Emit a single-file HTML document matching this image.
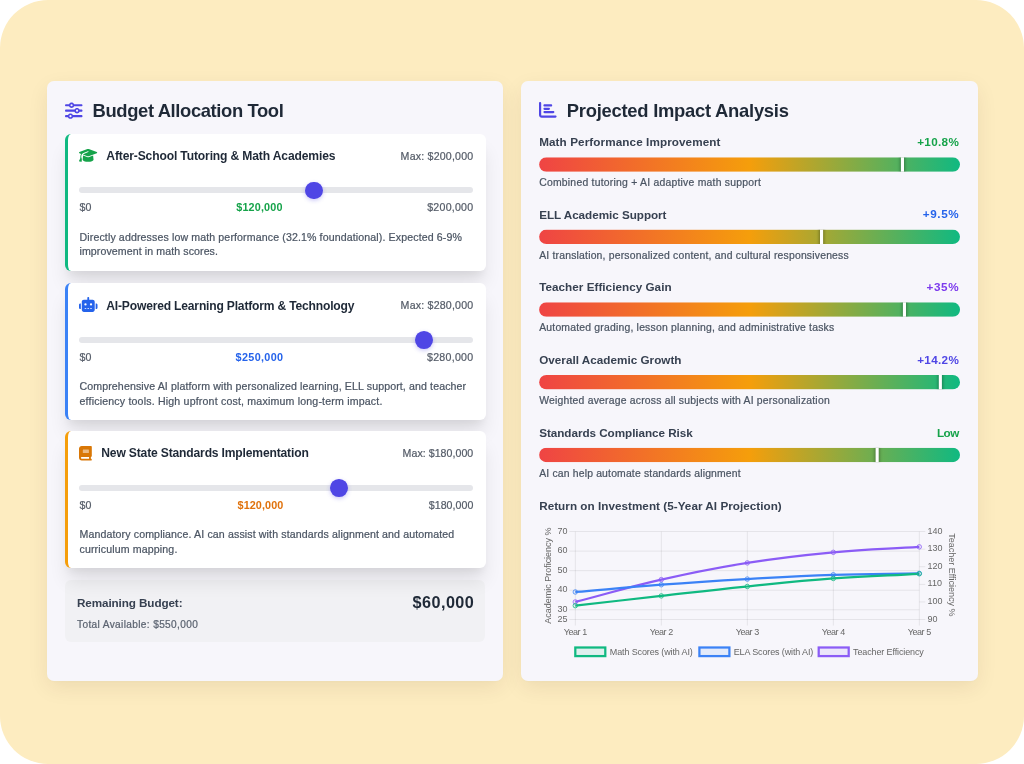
<!DOCTYPE html>
<html lang="en">
<head>
<meta charset="utf-8">
<title>Budget Allocation Tool</title>
<style>
*{box-sizing:border-box;margin:0;padding:0}
html,body{width:1024px;height:764px;overflow:hidden;background:#fff}
body{-webkit-font-smoothing:antialiased;font-family:"Liberation Sans",Arial,sans-serif;color:#1f2937;position:relative}
.page{position:absolute;left:0;top:0;width:1024px;height:764px;background:#fdecc0;border-radius:48px;overflow:hidden}
.panel{will-change:transform;position:absolute;top:80.7px;height:599.8px;background:#f7f6fb;border-radius:7px;box-shadow:0 7px 21px -1px rgba(60,40,0,.085),0 1px 3px rgba(60,40,0,.025)}
#lp{left:47px;width:456.4px}
#rp{left:521.2px;width:456.5px}
.abs{position:absolute;white-space:nowrap;line-height:1;z-index:5;-webkit-text-stroke:.22px currentColor}
.b{-webkit-text-stroke:0;font-weight:700}
h2,h3{margin:0}
.ic{position:absolute;z-index:5;overflow:visible}
.card{border-left:3.2px solid #000;position:absolute;left:18px;width:421px;background:#fff;border-radius:6px;box-shadow:0 15px 18.75px -3.75px rgba(0,0,10,.105),0 7.5px 7.5px -3.75px rgba(0,0,10,.045);z-index:2}
.track{position:absolute;left:11.1px;width:394px;height:6px;border-radius:3px;background:#e5e6ea;top:53.7px}
.thumb{position:absolute;width:17.8px;height:17.8px;border-radius:50%;background:#4f46e5;box-shadow:0 1.5px 4.5px rgba(79,70,229,.3)}
.remain{position:absolute;left:18px;top:499.2px;width:420px;height:62.2px;border-radius:6px;background:#f1f1f4;z-index:1}
.chart{position:absolute;left:0;top:0;z-index:3}
.chart text{font-family:"Liberation Sans",Arial,sans-serif;font-size:9px;fill:#666}
</style>
</head>
<body>
<div class="page">
<div class="panel" id="lp">
<svg class="ic" style="left:17.90px;top:20.55px;width:17.5px;height:17.4px" viewBox="0 0 512 512" preserveAspectRatio="none"><path fill="#4f46e5" d="M0 416c0 17.700 14.300 32 32 32l54.700 0c12.300 28.300 40.500 48 73.300 48s61-19.700 73.300-48L480 448c17.700 0 32-14.300 32-32s-14.300-32-32-32l-246.700 0c-12.300-28.300-40.500-48-73.300-48s-61 19.700-73.300 48L32 384c-17.700 0-32 14.300-32 32zm128 0a32 32 0 1 1 64 0 32 32 0 1 1 -64 0zM320 256a32 32 0 1 1 64 0 32 32 0 1 1 -64 0zm32-80c-32.800 0-61 19.700-73.300 48L32 224c-17.700 0-32 14.300-32 32s14.300 32 32 32l246.700 0c12.300 28.300 40.500 48 73.300 48s61-19.700 73.300-48l54.700 0c17.700 0 32-14.300 32-32s-14.300-32-32-32l-54.700 0c-12.300-28.300-40.500-48-73.300-48zM192 128a32 32 0 1 1 0-64 32 32 0 1 1 0 64zm73.300-64C253 35.700 224.800 16 192 16s-61 19.700-73.300 48L32 64C14.300 64 0 78.300 0 96s14.300 32 32 32l86.700 0c12.300 28.300 40.500 48 73.300 48s61-19.700 73.300-48L480 128c17.700 0 32-14.300 32-32s-14.300-32-32-32L265.300 64z"/></svg>
<h2 class="abs b" id="t0" style="left:45.60px;top:20.52px;font-size:18.4px;color:#1f2937;letter-spacing:-0.382px;">Budget Allocation Tool</h2>
<div class="card" style="top:52.60px;height:137.4px;border-left-color:#10b981">
<svg class="ic" style="left:11.30px;top:14.90px;width:18.2px;height:14.8px" viewBox="0 0 640 512" preserveAspectRatio="none"><path fill="#16a34a" d="M320 32c-8.100 0-16.100 1.400-23.700 4.100L15.800 137.400C6.300 140.900 0 149.900 0 160s6.300 19.100 15.800 22.600l57.900 20.900C57.300 229.300 48 259.800 48 291.900l0 28.100c0 28.400-10.800 57.700-22.300 80.800c-6.500 13-13.900 25.800-22.500 37.600C0 442.700-.9 448.300 .9 453.400s6 8.900 11.200 10.200l64 16c4.200 1.100 8.700 .3 12.400-2s6.300-6.100 7.100-10.400c8.600-42.800 4.300-81.200-2.100-108.700C90.300 344.300 86 329.800 80 316.500l0-24.600c0-30.200 10.200-58.700 27.900-81.500c12.900-15.500 29.600-28 49.200-35.700l157-61.700c8.200-3.200 17.500 .8 20.700 9s-.8 17.500-9 20.700l-157 61.700c-12.400 4.900-23.300 12.400-32.200 21.600l159.600 57.600c7.600 2.700 15.600 4.100 23.700 4.100s16.100-1.400 23.700-4.100L624.200 182.600c9.500-3.400 15.800-12.500 15.800-22.600s-6.300-19.100-15.800-22.600L343.700 36.100C336.100 33.400 328.100 32 320 32zM128 408c0 35.300 86 72 192 72s192-36.700 192-72L496.700 262.600 354.500 314c-11.100 4-22.800 6-34.500 6s-23.500-2-34.500-6L143.300 262.600 128 408z"/></svg>
<h3 class="abs b" id="t1" style="left:38.30px;top:16.46px;font-size:12.1px;color:#1f2937;letter-spacing:-0.144px;">After-School Tutoring &amp; Math Academies</h3>
<span class="abs" id="t2" style="left:332.60px;top:17.23px;font-size:10.6px;color:#555c68;letter-spacing:0.208px;">Max: $200,000</span>
<div class="track"></div><div class="thumb" style="left:237.22px;top:48.0px"></div>
<span class="abs" id="t3" style="left:11.50px;top:67.93px;font-size:10.6px;color:#555c68;letter-spacing:0.202px;">$0</span>
<span class="abs b" id="t4" style="left:168.30px;top:68.76px;font-size:10.8px;color:#16a34a;letter-spacing:0.154px;">$120,000</span>
<span class="abs" id="t5" style="left:359.20px;top:67.93px;font-size:10.6px;color:#555c68;letter-spacing:0.255px;">$200,000</span>
<span class="abs" id="t6" style="left:11.50px;top:98.63px;font-size:10.6px;color:#4b5563;letter-spacing:0.123px;">Directly addresses low math performance (32.1% foundational). Expected 6-9%</span>
<span class="abs" id="t7" style="left:11.50px;top:112.03px;font-size:10.6px;color:#4b5563;letter-spacing:0.094px;">improvement in math scores.</span>
</div>
<div class="card" style="top:202.20px;height:136.7px;border-left-color:#3b82f6">
<svg class="ic" style="left:11.20px;top:13.90px;width:18.5px;height:14.9px" viewBox="0 0 640 512" preserveAspectRatio="none"><path fill="#2563eb" d="M320 0c17.700 0 32 14.300 32 32l0 64 120 0c39.800 0 72 32.200 72 72l0 272c0 39.800-32.200 72-72 72l-304 0c-39.800 0-72-32.200-72-72l0-272c0-39.800 32.200-72 72-72l120 0 0-64c0-17.700 14.300-32 32-32zM208 384c-8.800 0-16 7.200-16 16s7.200 16 16 16l32 0c8.800 0 16-7.200 16-16s-7.200-16-16-16l-32 0zm96 0c-8.800 0-16 7.200-16 16s7.200 16 16 16l32 0c8.800 0 16-7.200 16-16s-7.200-16-16-16l-32 0zm96 0c-8.800 0-16 7.200-16 16s7.200 16 16 16l32 0c8.800 0 16-7.200 16-16s-7.200-16-16-16l-32 0zM264 256a40 40 0 1 0 -80 0 40 40 0 1 0 80 0zm152 40a40 40 0 1 0 0-80 40 40 0 1 0 0 80zM48 224l16 0 0 192-16 0c-26.500 0-48-21.500-48-48l0-96c0-26.500 21.500-48 48-48zm544 0c26.500 0 48 21.500 48 48l0 96c0 26.500-21.500 48-48 48l-16 0 0-192 16 0z"/></svg>
<h3 class="abs b" id="t8" style="left:38.30px;top:16.46px;font-size:12.1px;color:#1f2937;letter-spacing:-0.190px;">AI-Powered Learning Platform &amp; Technology</h3>
<span class="abs" id="t9" style="left:332.60px;top:17.23px;font-size:10.6px;color:#555c68;letter-spacing:0.208px;">Max: $280,000</span>
<div class="track"></div><div class="thumb" style="left:347.39px;top:48.0px"></div>
<span class="abs" id="t10" style="left:11.50px;top:68.93px;font-size:10.6px;color:#555c68;letter-spacing:0.202px;">$0</span>
<span class="abs b" id="t11" style="left:167.60px;top:68.76px;font-size:10.8px;color:#2563eb;letter-spacing:0.340px;">$250,000</span>
<span class="abs" id="t12" style="left:359.00px;top:68.93px;font-size:10.6px;color:#555c68;letter-spacing:0.282px;">$280,000</span>
<span class="abs" id="t13" style="left:11.50px;top:97.63px;font-size:10.6px;color:#4b5563;letter-spacing:0.116px;">Comprehensive AI platform with personalized learning, ELL support, and teacher</span>
<span class="abs" id="t14" style="left:11.50px;top:113.03px;font-size:10.6px;color:#4b5563;letter-spacing:0.181px;">efficiency tools. High upfront cost, maximum long-term impact.</span>
</div>
<div class="card" style="top:350.00px;height:137.3px;border-left-color:#f59e0b">
<svg class="ic" style="left:11.30px;top:14.50px;width:12.8px;height:14.6px" viewBox="0 0 448 512" preserveAspectRatio="none"><path fill="#d97706" d="M96 0C43 0 0 43 0 96L0 416c0 53 43 96 96 96l288 0 32 0c17.700 0 32-14.300 32-32s-14.300-32-32-32l0-64c17.700 0 32-14.300 32-32l0-320c0-17.700-14.300-32-32-32L384 0 96 0zm0 384l256 0 0 64L96 448c-17.700 0-32-14.300-32-32s14.300-32 32-32zm32-240c0-8.800 7.200-16 16-16l192 0c8.800 0 16 7.200 16 16s-7.200 16-16 16l-192 0c-8.800 0-16-7.200-16-16zm16 48l192 0c8.800 0 16 7.200 16 16s-7.200 16-16 16l-192 0c-8.800 0-16-7.200-16-16s7.200-16 16-16z"/></svg>
<h3 class="abs b" id="t15" style="left:33.30px;top:16.46px;font-size:12.1px;color:#1f2937;letter-spacing:-0.168px;">New State Standards Implementation</h3>
<span class="abs" id="t16" style="left:334.60px;top:17.23px;font-size:10.6px;color:#555c68;letter-spacing:0.048px;">Max: $180,000</span>
<div class="track"></div><div class="thumb" style="left:262.30px;top:48.0px"></div>
<span class="abs" id="t17" style="left:11.50px;top:68.93px;font-size:10.6px;color:#555c68;letter-spacing:0.202px;">$0</span>
<span class="abs b" id="t18" style="left:169.60px;top:68.76px;font-size:10.8px;color:#e0720c;letter-spacing:0.087px;">$120,000</span>
<span class="abs" id="t19" style="left:360.80px;top:68.93px;font-size:10.6px;color:#555c68;letter-spacing:0.042px;">$180,000</span>
<span class="abs" id="t20" style="left:11.50px;top:97.63px;font-size:10.6px;color:#4b5563;letter-spacing:0.124px;">Mandatory compliance. AI can assist with standards alignment and automated</span>
<span class="abs" id="t21" style="left:11.50px;top:113.03px;font-size:10.6px;color:#4b5563;letter-spacing:0.136px;">curriculum mapping.</span>
</div>
<div class="remain">
<span class="abs b" id="t22" style="left:12.00px;top:17.20px;font-size:11.7px;color:#374151;letter-spacing:-0.099px;">Remaining Budget:</span>
<span class="abs" id="t23" style="left:12.00px;top:40.05px;font-size:10.1px;color:#5b6370;letter-spacing:0.365px;">Total Available: $550,000</span>
<span class="abs b" id="t24" style="left:347.60px;top:13.69px;font-size:16.2px;color:#1f2937;letter-spacing:0.444px;">$60,000</span>
</div>
</div>
<div class="panel" id="rp">
<svg class="ic" style="left:18.00px;top:20.30px;width:17.6px;height:17.8px" viewBox="0 0 512 512" preserveAspectRatio="none"><path fill="#4f46e5" d="M32 32c17.700 0 32 14.300 32 32l0 336c0 8.800 7.200 16 16 16l400 0c17.700 0 32 14.300 32 32s-14.300 32-32 32L80 480c-44.200 0-80-35.800-80-80L0 64C0 46.300 14.300 32 32 32zm96 96c0-17.700 14.300-32 32-32l192 0c17.700 0 32 14.300 32 32s-14.300 32-32 32l-192 0c-17.700 0-32-14.300-32-32zm32 64l128 0c17.700 0 32 14.300 32 32s-14.300 32-32 32l-128 0c-17.700 0-32-14.300-32-32s14.300-32 32-32zm0 96l256 0c17.700 0 32 14.300 32 32s-14.300 32-32 32l-256 0c-17.700 0-32-14.300-32-32s14.300-32 32-32z"/></svg>
<h2 class="abs b" id="t25" style="left:45.80px;top:20.52px;font-size:18.4px;color:#1f2937;letter-spacing:-0.256px;">Projected Impact Analysis</h2>
<h3 class="abs b" id="t26" style="left:18.20px;top:55.45px;font-size:11.7px;color:#374151;letter-spacing:0.098px;">Math Performance Improvement</h3>
<span class="abs b" id="t27" style="left:396.20px;top:55.15px;font-size:11.7px;color:#16a34a;letter-spacing:0.333px;">+10.8%</span>
<span class="abs" id="t28" style="left:18.20px;top:96.60px;font-size:10.4px;color:#4b5563;letter-spacing:0.232px;">Combined tutoring + AI adaptive math support</span>
<h3 class="abs b" id="t29" style="left:18.20px;top:128.17px;font-size:11.7px;color:#374151;letter-spacing:-0.033px;">ELL Academic Support</h3>
<span class="abs b" id="t30" style="left:401.70px;top:126.87px;font-size:11.7px;color:#2563eb;letter-spacing:0.629px;">+9.5%</span>
<span class="abs" id="t31" style="left:18.20px;top:170.25px;font-size:10.4px;color:#4b5563;letter-spacing:0.197px;">AI translation, personalized content, and cultural responsiveness</span>
<h3 class="abs b" id="t32" style="left:18.20px;top:199.89px;font-size:11.7px;color:#374151;letter-spacing:0.033px;">Teacher Efficiency Gain</h3>
<span class="abs b" id="t33" style="left:405.40px;top:199.59px;font-size:11.7px;color:#7c3aed;letter-spacing:0.680px;">+35%</span>
<span class="abs" id="t34" style="left:18.20px;top:241.90px;font-size:10.4px;color:#4b5563;letter-spacing:0.203px;">Automated grading, lesson planning, and administrative tasks</span>
<h3 class="abs b" id="t35" style="left:18.20px;top:272.61px;font-size:11.7px;color:#374151;letter-spacing:0.021px;">Overall Academic Growth</h3>
<span class="abs b" id="t36" style="left:396.20px;top:273.31px;font-size:11.7px;color:#4f46e5;letter-spacing:0.333px;">+14.2%</span>
<span class="abs" id="t37" style="left:18.20px;top:314.55px;font-size:10.4px;color:#4b5563;letter-spacing:0.208px;">Weighted average across all subjects with AI personalization</span>
<h3 class="abs b" id="t38" style="left:18.20px;top:346.33px;font-size:11.7px;color:#374151;letter-spacing:-0.041px;">Standards Compliance Risk</h3>
<span class="abs b" id="t39" style="left:416.00px;top:346.03px;font-size:11.7px;color:#16a34a;letter-spacing:-0.550px;">Low</span>
<span class="abs" id="t40" style="left:18.20px;top:388.20px;font-size:10.4px;color:#4b5563;letter-spacing:0.175px;">AI can help automate standards alignment</span>
<h3 class="abs b" id="t41" style="left:18.20px;top:419.40px;font-size:11.7px;color:#374151;letter-spacing:0.034px;">Return on Investment (5-Year AI Projection)</h3>
<svg class="chart" width="456.5" height="599.8" viewBox="521.2 80.7 456.5 599.8">
<defs><linearGradient id="gr" x1="0" x2="1" y1="0" y2="0"><stop offset="0" stop-color="#ef4444"/><stop offset=".5" stop-color="#f59e0b"/><stop offset="1" stop-color="#10b981"/></linearGradient><filter id="sh" x="-2" y="-1" width="5" height="3"><feGaussianBlur stdDeviation="1.5"/></filter></defs>
<clipPath id="cb0"><rect x="539.3" y="157.0" width="420.9" height="14.5" rx="7.25"/></clipPath>
<g clip-path="url(#cb0)"><rect x="539.3" y="157.0" width="420.9" height="14.5" fill="url(#gr)"/><rect x="900.10" y="154.0" width="5.1" height="20.5" fill="#000" opacity=".3" filter="url(#sh)"/><rect x="901.10" y="156.0" width="3.1" height="16.5" fill="#fff"/></g>
<clipPath id="cb1"><rect x="539.3" y="229.3" width="420.9" height="14.5" rx="7.25"/></clipPath>
<g clip-path="url(#cb1)"><rect x="539.3" y="229.3" width="420.9" height="14.5" fill="url(#gr)"/><rect x="819.20" y="226.3" width="5.1" height="20.5" fill="#000" opacity=".3" filter="url(#sh)"/><rect x="820.20" y="228.3" width="3.1" height="16.5" fill="#fff"/></g>
<clipPath id="cb2"><rect x="539.3" y="302.0" width="420.9" height="14.5" rx="7.25"/></clipPath>
<g clip-path="url(#cb2)"><rect x="539.3" y="302.0" width="420.9" height="14.5" fill="url(#gr)"/><rect x="902.10" y="299.0" width="5.1" height="20.5" fill="#000" opacity=".3" filter="url(#sh)"/><rect x="903.10" y="301.0" width="3.1" height="16.5" fill="#fff"/></g>
<clipPath id="cb3"><rect x="539.3" y="374.6" width="420.9" height="14.5" rx="7.25"/></clipPath>
<g clip-path="url(#cb3)"><rect x="539.3" y="374.6" width="420.9" height="14.5" fill="url(#gr)"/><rect x="938.00" y="371.6" width="5.1" height="20.5" fill="#000" opacity=".3" filter="url(#sh)"/><rect x="939.00" y="373.6" width="3.1" height="16.5" fill="#fff"/></g>
<clipPath id="cb4"><rect x="539.3" y="447.45" width="420.9" height="14.5" rx="7.25"/></clipPath>
<g clip-path="url(#cb4)"><rect x="539.3" y="447.45" width="420.9" height="14.5" fill="url(#gr)"/><rect x="874.80" y="444.45" width="5.1" height="20.5" fill="#000" opacity=".3" filter="url(#sh)"/><rect x="875.80" y="446.45" width="3.1" height="16.5" fill="#fff"/></g>
<line x1="575.50" y1="531.25" x2="575.50" y2="625.25" stroke="#000" stroke-opacity=".1" stroke-width=".75"/>
<line x1="661.50" y1="531.25" x2="661.50" y2="625.25" stroke="#000" stroke-opacity=".1" stroke-width=".75"/>
<line x1="747.50" y1="531.25" x2="747.50" y2="625.25" stroke="#000" stroke-opacity=".1" stroke-width=".75"/>
<line x1="833.50" y1="531.25" x2="833.50" y2="625.25" stroke="#000" stroke-opacity=".1" stroke-width=".75"/>
<line x1="919.50" y1="531.25" x2="919.50" y2="625.25" stroke="#000" stroke-opacity=".1" stroke-width=".75"/>
<line x1="569.5" y1="531.25" x2="919.5" y2="531.25" stroke="#000" stroke-opacity=".1" stroke-width=".75"/>
<line x1="569.5" y1="550.81" x2="919.5" y2="550.81" stroke="#000" stroke-opacity=".1" stroke-width=".75"/>
<line x1="569.5" y1="570.36" x2="919.5" y2="570.36" stroke="#000" stroke-opacity=".1" stroke-width=".75"/>
<line x1="569.5" y1="589.92" x2="919.5" y2="589.92" stroke="#000" stroke-opacity=".1" stroke-width=".75"/>
<line x1="569.5" y1="609.47" x2="919.5" y2="609.47" stroke="#000" stroke-opacity=".1" stroke-width=".75"/>
<line x1="569.5" y1="619.25" x2="919.5" y2="619.25" stroke="#000" stroke-opacity=".1" stroke-width=".75"/>
<line x1="919.5" y1="531.25" x2="925.5" y2="531.25" stroke="#000" stroke-opacity=".1" stroke-width=".75"/>
<line x1="919.5" y1="548.85" x2="925.5" y2="548.85" stroke="#000" stroke-opacity=".1" stroke-width=".75"/>
<line x1="919.5" y1="566.45" x2="925.5" y2="566.45" stroke="#000" stroke-opacity=".1" stroke-width=".75"/>
<line x1="919.5" y1="584.05" x2="925.5" y2="584.05" stroke="#000" stroke-opacity=".1" stroke-width=".75"/>
<line x1="919.5" y1="601.65" x2="925.5" y2="601.65" stroke="#000" stroke-opacity=".1" stroke-width=".75"/>
<line x1="919.5" y1="619.25" x2="925.5" y2="619.25" stroke="#000" stroke-opacity=".1" stroke-width=".75"/>
<text x="567.6" y="533.40" text-anchor="end">70</text>
<text x="567.6" y="552.96" text-anchor="end">60</text>
<text x="567.6" y="572.51" text-anchor="end">50</text>
<text x="567.6" y="592.07" text-anchor="end">40</text>
<text x="567.6" y="611.62" text-anchor="end">30</text>
<text x="567.6" y="621.40" text-anchor="end">25</text>
<text x="927.8" y="533.40">140</text>
<text x="927.8" y="551.00">130</text>
<text x="927.8" y="568.60">120</text>
<text x="927.8" y="586.20">110</text>
<text x="927.8" y="603.80">100</text>
<text x="927.8" y="621.40">90</text>
<text x="575.50" y="634.9" text-anchor="middle" letter-spacing="-.4">Year 1</text>
<text x="661.50" y="634.9" text-anchor="middle" letter-spacing="-.4">Year 2</text>
<text x="747.50" y="634.9" text-anchor="middle" letter-spacing="-.4">Year 3</text>
<text x="833.50" y="634.9" text-anchor="middle" letter-spacing="-.4">Year 4</text>
<text x="919.50" y="634.9" text-anchor="middle" letter-spacing="-.4">Year 5</text>
<text transform="translate(550.7 575.3) rotate(-90)" text-anchor="middle">Academic Proficiency %</text>
<text transform="translate(948.8 574.5) rotate(90)" text-anchor="middle">Teacher Efficiency %</text>
<path d="M575.50 601.65C609.90 592.71 626.86 587.17 661.50 579.30C695.66 571.54 712.91 568.06 747.50 562.58C781.71 557.15 799.01 555.23 833.50 552.02C867.81 548.82 885.10 548.74 919.50 546.56" fill="none" stroke="#8b5cf6" stroke-width="2.25" stroke-linecap="butt"/>
<path d="M575.50 591.68C609.90 588.78 627.08 587.02 661.50 584.44C695.88 581.86 713.08 580.77 747.50 578.77C781.88 576.78 799.08 575.60 833.50 574.47C867.88 573.33 885.10 573.65 919.50 573.10" fill="none" stroke="#3b82f6" stroke-width="2.25" stroke-linecap="butt"/>
<path d="M575.50 605.37C609.90 601.45 627.09 599.42 661.50 595.59C695.89 591.76 713.07 589.68 747.50 586.20C781.87 582.72 799.05 580.73 833.50 578.18C867.85 575.64 885.10 575.37 919.50 573.49" fill="none" stroke="#10b981" stroke-width="2.25" stroke-linecap="butt"/>
<circle cx="575.50" cy="601.65" r="2.25" fill="rgba(139,92,246,.1)" stroke="#8b5cf6" stroke-width=".75"/>
<circle cx="661.50" cy="579.30" r="2.25" fill="rgba(139,92,246,.1)" stroke="#8b5cf6" stroke-width=".75"/>
<circle cx="747.50" cy="562.58" r="2.25" fill="rgba(139,92,246,.1)" stroke="#8b5cf6" stroke-width=".75"/>
<circle cx="833.50" cy="552.02" r="2.25" fill="rgba(139,92,246,.1)" stroke="#8b5cf6" stroke-width=".75"/>
<circle cx="919.50" cy="546.56" r="2.25" fill="rgba(139,92,246,.1)" stroke="#8b5cf6" stroke-width=".75"/>
<circle cx="575.50" cy="591.68" r="2.25" fill="rgba(59,130,246,.1)" stroke="#3b82f6" stroke-width=".75"/>
<circle cx="661.50" cy="584.44" r="2.25" fill="rgba(59,130,246,.1)" stroke="#3b82f6" stroke-width=".75"/>
<circle cx="747.50" cy="578.77" r="2.25" fill="rgba(59,130,246,.1)" stroke="#3b82f6" stroke-width=".75"/>
<circle cx="833.50" cy="574.47" r="2.25" fill="rgba(59,130,246,.1)" stroke="#3b82f6" stroke-width=".75"/>
<circle cx="919.50" cy="573.10" r="2.25" fill="rgba(59,130,246,.1)" stroke="#3b82f6" stroke-width=".75"/>
<circle cx="575.50" cy="605.37" r="2.25" fill="rgba(16,185,129,.1)" stroke="#10b981" stroke-width=".75"/>
<circle cx="661.50" cy="595.59" r="2.25" fill="rgba(16,185,129,.1)" stroke="#10b981" stroke-width=".75"/>
<circle cx="747.50" cy="586.20" r="2.25" fill="rgba(16,185,129,.1)" stroke="#10b981" stroke-width=".75"/>
<circle cx="833.50" cy="578.18" r="2.25" fill="rgba(16,185,129,.1)" stroke="#10b981" stroke-width=".75"/>
<circle cx="919.50" cy="573.49" r="2.25" fill="rgba(16,185,129,.1)" stroke="#10b981" stroke-width=".75"/>
<rect x="575.50" y="647.2" width="30" height="8.6" fill="rgba(16,185,129,.1)" stroke="#10b981" stroke-width="2.25"/>
<text x="610.0" y="654.4" letter-spacing="-.12">Math Scores (with AI)</text>
<rect x="699.60" y="647.2" width="30" height="8.6" fill="rgba(59,130,246,.1)" stroke="#3b82f6" stroke-width="2.25"/>
<text x="733.9" y="654.4" letter-spacing="-.12">ELA Scores (with AI)</text>
<rect x="818.90" y="647.2" width="30" height="8.6" fill="rgba(139,92,246,.1)" stroke="#8b5cf6" stroke-width="2.25"/>
<text x="853.3" y="654.4" letter-spacing="-.12">Teacher Efficiency</text>
</svg>
</div>
</div>
</body>
</html>
